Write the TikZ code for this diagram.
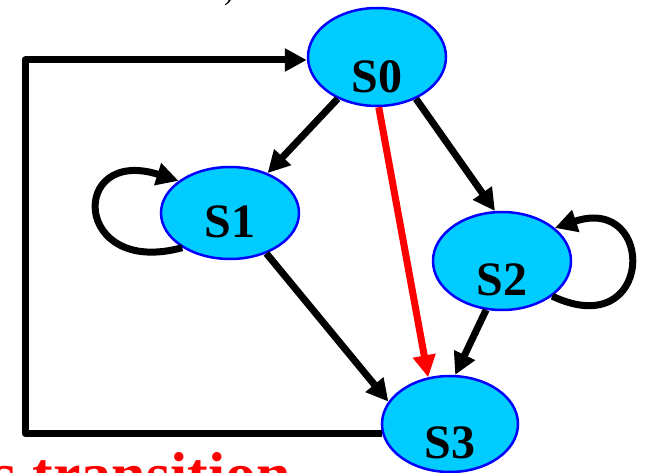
\documentclass[tikz,border=0pt]{standalone}
\usepackage{fontspec}
\setmainfont{Liberation Serif}
\usepackage{tikz}
\usetikzlibrary{arrows.meta,shapes.geometric}

\definecolor{stfill}{RGB}{0,204,255}
\definecolor{stline}{RGB}{0,0,255}

\begin{document}
\begin{tikzpicture}[x=1pt,y=1pt,
    state/.style={ellipse,draw=stline,line width=2.5pt,fill=stfill,minimum width=138pt,minimum height=98pt},
    statename/.style={font=\fontsize{48}{48}\selectfont\bfseries},
    trans/.style={line width=7pt,line join=round,-{Triangle[length=22pt,width=22pt]}}]
        \tikzstyle{every node}+=[inner sep=0pt]
        \clip (0,0) rectangle (646,472);
        % states
        \node [state] (s0) at (377,415) {};
        \node [state,minimum height=92pt] (s1) at (230,259) {};
        \node [state] (s2) at (502,211) {};
        \node [state,minimum width=136pt,minimum height=96pt] (s3) at (450,48) {};
        \node [statename] (s0name) at ([yshift=-20pt]s0.center) {S0};
        \node [statename] (s1name) at ([yshift=-9pt]s1.center) {S1};
        \node [statename] (s2name) at ([yshift=-19pt]s2.center) {S2};
        \node [statename] (s3name) at ([yshift=-19pt]s3.center) {S3};
        % transitions
        \draw [trans] (s0) -- (s1);
        \draw [trans] (s0.-47) -- (s2.98);
        \draw [trans] (s1.-48) -- (s3.160);
        \draw [trans] (s2.-108) -- (s3.84);
        \draw [trans] (s1.216) .. controls +(-110,-30) and +(-110,35) .. (s1.148);
        \draw [trans] (s2.-35) .. controls +(102,-48) and +(102,34) .. (s2.32);
        \coordinate (ret) at (25,412);
        \draw [trans] (s3.188) -| (ret) -- (s0.west |- ret);
        \draw [trans,red] (s0.-88) -- (s3.115);
        % cut-off texts
        \node [font=\fontsize{62}{62}\selectfont\bfseries,text=red,anchor=base east] (note) at (291,-23) {s transition};
        \node [font=\fontsize{30}{30}\selectfont,anchor=south] (frag) at (229,466) {)};
\end{tikzpicture}
\end{document}
